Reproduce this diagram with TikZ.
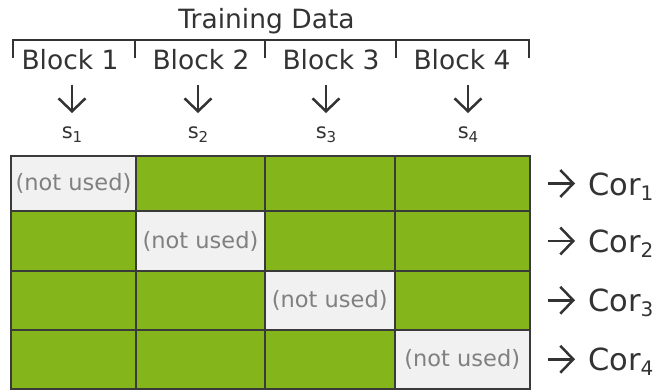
\documentclass[tikz,border=0pt]{standalone}
\usepackage{fontspec}
\setmainfont{DejaVu Sans}
\usetikzlibrary{arrows.meta}
\definecolor{grn}{HTML}{84B51A}
\definecolor{lgr}{HTML}{F1F1F1}
\definecolor{dk}{HTML}{3A3A3A}
\definecolor{txt}{HTML}{333333}
\definecolor{nu}{HTML}{808080}
\begin{document}
\begin{tikzpicture}[x=1pt,y=-1pt,
  cellg/.style={draw=dk, line width=2pt, fill=grn, inner sep=0pt, anchor=center},
  cellu/.style={cellg, fill=lgr, text=nu, font=\fontsize{22.5}{26}\selectfont},
  blk/.style={text=txt, font=\fontsize{26.5}{30}\selectfont, inner sep=0pt, anchor=base},
  slab/.style={text=txt, font=\fontsize{21}{24}\selectfont, inner sep=0pt, anchor=base},
  corlab/.style={text=txt, font=\fontsize{30.5}{34}\selectfont, inner sep=0pt, anchor=base west},
  arr/.style={draw=txt, line width=2.5pt, -{Straight Barb[length=13pt,width=27pt,line width=2.5pt]}},
  brk/.style={draw=txt, line width=2.5pt}]
\useasboundingbox (0,0) rectangle (655,390);

% title and bracket
\node[blk] (title) at (266.5,29) {Training Data};
\draw[brk] (13,58) -- (13,40) -- (529,40) -- (529,58);
\draw[brk] (135,40) -- (135,58);
\draw[brk] (265,40) -- (265,58);
\draw[brk] (396,40) -- (396,58);

% block labels
\node[blk] (b1) at (70,70) {Block 1};
\node[blk] (b2) at (201,70) {Block 2};
\node[blk] (b3) at (331,70) {Block 3};
\node[blk] (b4) at (462,70) {Block 4};

% s labels
\node[slab] (s1) at (72,139) {s\raisebox{-4pt}{\fontsize{15}{15}\selectfont 1}};
\node[slab] (s2) at (198,139) {s\raisebox{-4pt}{\fontsize{15}{15}\selectfont 2}};
\node[slab] (s3) at (326,139) {s\raisebox{-4pt}{\fontsize{15}{15}\selectfont 3}};
\node[slab] (s4) at (468,139) {s\raisebox{-4pt}{\fontsize{15}{15}\selectfont 4}};

\foreach \i in {1,2,3,4}{
  \draw[arr, shorten <=14pt, shorten >=14pt] (s\i.north |- b\i.south) -- (s\i.north);
}

% grid (columns 11,136,265,394.5,530; rows 156,211,271,329.5,389)
\node[cellu, minimum width=125pt, minimum height=55pt] (c11) at (73.5,183.5) {(not used)};
\node[cellg, minimum width=129pt, minimum height=55pt] (c12) at (200.5,183.5) {};
\node[cellg, minimum width=129.5pt, minimum height=55pt] (c13) at (329.75,183.5) {};
\node[cellg, minimum width=135.5pt, minimum height=55pt] (c14) at (462.25,183.5) {};

\node[cellg, minimum width=125pt, minimum height=60pt] (c21) at (73.5,241) {};
\node[cellu, minimum width=129pt, minimum height=60pt] (c22) at (200.5,241) {(not used)};
\node[cellg, minimum width=129.5pt, minimum height=60pt] (c23) at (329.75,241) {};
\node[cellg, minimum width=135.5pt, minimum height=60pt] (c24) at (462.25,241) {};

\node[cellg, minimum width=125pt, minimum height=58.5pt] (c31) at (73.5,300.25) {};
\node[cellg, minimum width=129pt, minimum height=58.5pt] (c32) at (200.5,300.25) {};
\node[cellu, minimum width=129.5pt, minimum height=58.5pt] (c33) at (329.75,300.25) {(not used)};
\node[cellg, minimum width=135.5pt, minimum height=58.5pt] (c34) at (462.25,300.25) {};

\node[cellg, minimum width=125pt, minimum height=59.5pt] (c41) at (73.5,359.25) {};
\node[cellg, minimum width=129pt, minimum height=59.5pt] (c42) at (200.5,359.25) {};
\node[cellg, minimum width=129.5pt, minimum height=59.5pt] (c43) at (329.75,359.25) {};
\node[cellu, minimum width=135.5pt, minimum height=59.5pt] (c44) at (462.25,359.25) {(not used)};

% Cor labels
\node[corlab] (cor1) at (588,195) {Cor\raisebox{-5pt}{\fontsize{20}{20}\selectfont 1}};
\node[corlab] (cor2) at (588,252.5) {Cor\raisebox{-5pt}{\fontsize{20}{20}\selectfont 2}};
\node[corlab] (cor3) at (588,311.5) {Cor\raisebox{-5pt}{\fontsize{20}{20}\selectfont 3}};
\node[corlab] (cor4) at (588,370.5) {Cor\raisebox{-5pt}{\fontsize{20}{20}\selectfont 4}};

\foreach \i in {1,2,3,4}{
  \draw[arr, shorten <=17pt, shorten >=13pt] (c\i4.east) -- (c\i4.east -| cor\i.west);
}
\end{tikzpicture}
\end{document}
